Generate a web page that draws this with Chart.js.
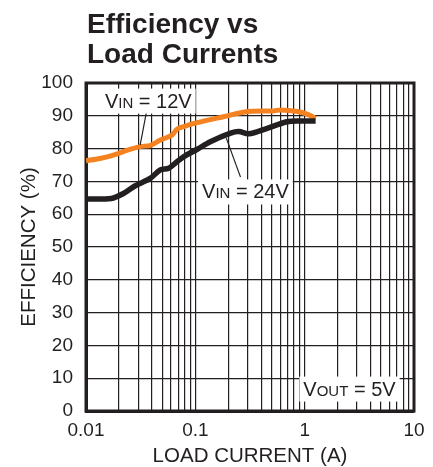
<!DOCTYPE html>
<html>
<head>
<meta charset="utf-8">
<script src="https://cdn.jsdelivr.net/npm/chart.js@4.4.1/dist/chart.umd.min.js"></script>
<style>
  html, body { margin: 0; padding: 0; background: #fff; }
  #wrap { width: 433px; height: 467px; }
</style>
</head>
<body>
<div id="wrap"><canvas id="effChart" width="433" height="467"></canvas></div>
<script>
// Load current (A) and efficiency (%)
const current12 = [0.01, 0.0134, 0.0178, 0.024, 0.031, 0.039, 0.048, 0.061, 0.068, 0.078, 0.104, 0.18, 0.3, 0.52, 0.6, 0.86, 1.05, 1.26];
const eff12     = [76.3, 77, 78, 79.5, 80.6, 81, 82.6, 84.1, 85.9, 86.7, 87.9, 89.7, 91.3, 91.5, 91.8, 91.3, 90.5, 89.2];

const current24 = [0.01, 0.017, 0.022, 0.028, 0.0386, 0.0478, 0.057, 0.068, 0.078, 0.104, 0.137, 0.21, 0.25, 0.308, 0.454, 0.69, 0.92, 1.26];
const eff24     = [64.6, 64.8, 66.3, 68.6, 70.9, 73.5, 74, 76, 77.5, 79.8, 82.1, 84.7, 85.2, 84.5, 86.2, 88.2, 88.4, 88.4];

// x grid lines (1..9 per decade) and the ones that get a label
const xGrid = [0.01, 0.02, 0.03, 0.04, 0.05, 0.06, 0.07, 0.08, 0.09,
               0.1, 0.2, 0.3, 0.4, 0.5, 0.6, 0.7, 0.8, 0.9,
               1, 2, 3, 4, 5, 6, 7, 8, 9, 10];
const xLabels = ['0.01', '0.1', '1', '10'];

const titleLines = ['Efficiency vs', 'Load Currents'];

const INK = '#231f20';
const ORANGE = '#f58220';
const FONT = '"Liberation Sans", Arial, sans-serif';

function toPoints(xs, ys) {
    return xs.map((x, i) => ({ x: x, y: ys[i] }));
}

// label pieces: [text, small?]; anchor in data units (left, baseline)
const notes = [
    { parts: [['V', false], ['IN', true], [' = 12V', false]], x: 0.0149, y: 92.5,
      leader: [[0.0363, 92.4], [0.0313, 81.1]] },
    { parts: [['V', false], ['IN', true], [' = 24V', false]], x: 0.1152, y: 64.8,
      leader: [[0.192, 83.2], [0.259, 71.3]] },
    { parts: [['V', false], ['OUT', true], [' = 5V', false]], x: 0.973, y: 4.7,
      leader: null }
];

const decorPlugin = {
    id: 'decor',
    beforeDatasetsDraw(chart) {
        const { ctx, chartArea: a } = chart;
        ctx.save();
        ctx.strokeStyle = INK;
        ctx.lineWidth = 3;
        ctx.strokeRect(a.left, a.top, a.right - a.left, a.bottom - a.top);
        ctx.restore();
    },
    afterDatasetsDraw(chart) {
        const { ctx, chartArea: a } = chart;
        const xs = chart.scales.x, ys = chart.scales.y;
        ctx.save();

        // title
        ctx.fillStyle = INK;
        ctx.font = 'bold 28px ' + FONT;
        ctx.textBaseline = 'alphabetic';
        titleLines.forEach((t, i) => ctx.fillText(t, a.left + 1, 33 + i * 30));

        // leader lines
        ctx.strokeStyle = INK;
        ctx.lineWidth = 1.2;
        notes.forEach(n => {
            if (!n.leader) return;
            ctx.beginPath();
            ctx.moveTo(xs.getPixelForValue(n.leader[0][0]), ys.getPixelForValue(n.leader[0][1]));
            ctx.lineTo(xs.getPixelForValue(n.leader[1][0]), ys.getPixelForValue(n.leader[1][1]));
            ctx.stroke();
        });

        // labels on white boxes
        notes.forEach(n => {
            const x0 = xs.getPixelForValue(n.x);
            const base = ys.getPixelForValue(n.y);
            let w = 0;
            n.parts.forEach(p => {
                ctx.font = (p[1] ? '15px ' : '20px ') + FONT;
                w += ctx.measureText(p[0]).width;
            });
            ctx.fillStyle = '#fff';
            ctx.fillRect(x0 - 4, base - 19, w + 8, 25);
            ctx.fillStyle = INK;
            let x = x0;
            n.parts.forEach(p => {
                ctx.font = (p[1] ? '15px ' : '20px ') + FONT;
                ctx.fillText(p[0], x, base);
                x += ctx.measureText(p[0]).width;
            });
        });
        ctx.restore();
    }
};

const ctx = document.getElementById('effChart').getContext('2d');
const effChart = new Chart(ctx, {
    type: 'line',
    data: {
        datasets: [{
            label: 'VIN = 24V',
            data: toPoints(current24, eff24),
            borderColor: INK,
            borderWidth: 5.5,
            pointRadius: 0,
            tension: 0.3,
            fill: false
        }, {
            label: 'VIN = 12V',
            data: toPoints(current12, eff12),
            borderColor: ORANGE,
            borderWidth: 5,
            pointRadius: 0,
            tension: 0.3,
            fill: false
        }]
    },
    options: {
        responsive: false,
        animation: false,
        devicePixelRatio: 1,
        layout: { padding: { top: 83, right: 19, bottom: 0, left: 19 } },
        plugins: {
            legend: { display: false },
            tooltip: { enabled: false },
            title: { display: false }
        },
        scales: {
            x: {
                type: 'logarithmic',
                min: 0.01,
                max: 10,
                afterBuildTicks(scale) {
                    scale.ticks = xGrid.map(v => ({ value: v }));
                },
                afterFit(scale) {
                    scale.height = 56;
                },
                ticks: {
                    autoSkip: false,
                    maxRotation: 0,
                    padding: 8,
                    color: INK,
                    font: { family: FONT, size: 19 },
                    callback: function(value) {
                        const hit = xLabels.find(l => Math.abs(parseFloat(l) - value) < value * 1e-6);
                        return hit || '';
                    }
                },
                grid: { color: INK, lineWidth: 1.2, drawTicks: false },
                border: { color: INK, width: 3 },
                title: {
                    display: true,
                    text: 'LOAD CURRENT (A)',
                    color: INK,
                    font: { family: FONT, size: 20.5, lineHeight: 1 },
                    padding: { top: 3, bottom: 0 }
                }
            },
            y: {
                min: 0,
                max: 100,
                afterFit(scale) {
                    scale.width = 67;
                },
                ticks: {
                    stepSize: 10,
                    padding: 13,
                    color: INK,
                    font: { family: FONT, size: 19 }
                },
                grid: { color: INK, lineWidth: 1.2, drawTicks: false },
                border: { color: INK, width: 3 },
                title: {
                    display: true,
                    text: 'EFFICIENCY (%)',
                    color: INK,
                    font: { family: FONT, size: 20.5, lineHeight: 1 },
                    padding: { top: 0, bottom: 0 }
                }
            }
        }
    },
    plugins: [decorPlugin]
});
</script>
</body>
</html>
